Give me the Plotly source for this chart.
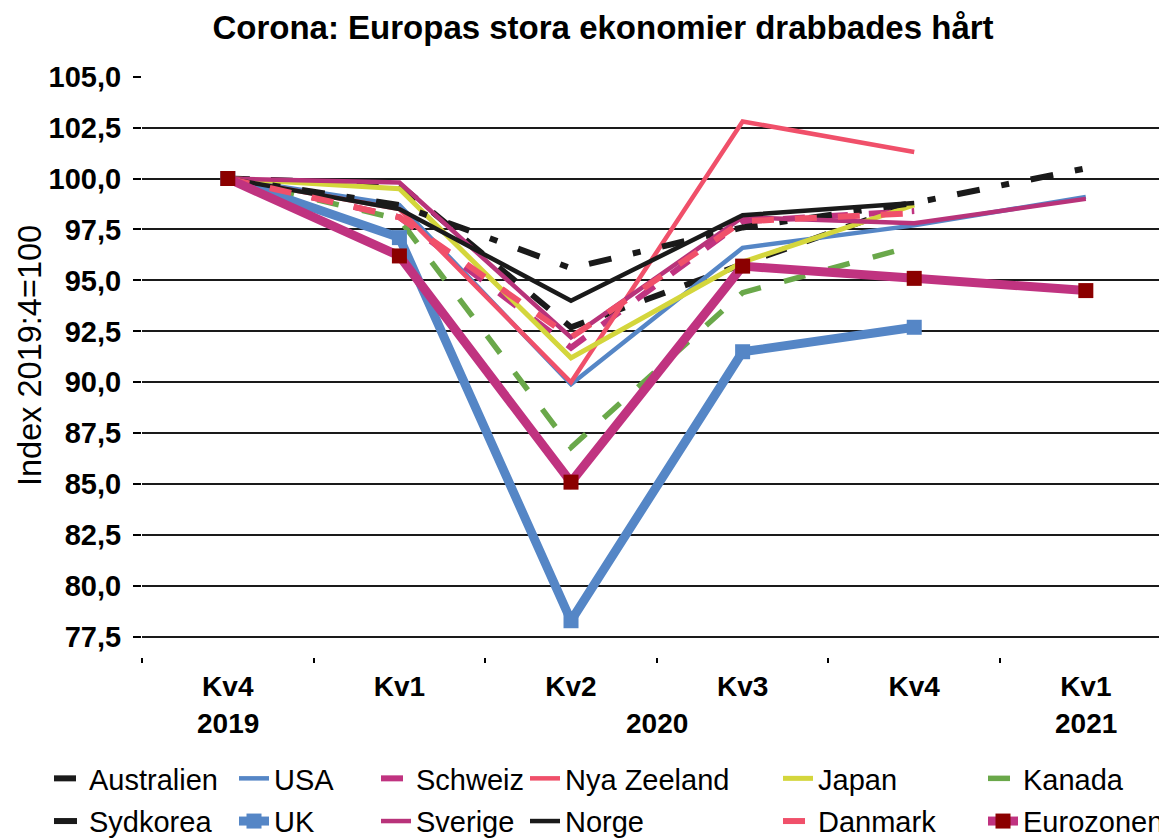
import plotly.graph_objects as go

categories = ["Kv4 2019", "Kv1 2020", "Kv2 2020", "Kv3 2020", "Kv4 2020", "Kv1 2021"]
quarter_labels = ["Kv4", "Kv1", "Kv2", "Kv3", "Kv4", "Kv1"]
year_labels = ["2019", "2020", "2021"]
year_positions = [0, 2.5, 5]

australien = [100.0, 99.7, 92.7, 95.8, 98.8, None]
usa = [100.0, 98.7, 89.9, 96.6, 97.7, 99.1]
schweiz = [100.0, 98.1, 91.7, 97.9, 98.4, None]
nya_zeeland = [100.0, 98.5, 90.0, 102.8, 101.3, None]
japan = [100.0, 99.5, 91.2, 95.9, 98.7, None]
kanada = [100.0, 98.0, 86.8, 94.4, 96.7, None]
sydkorea = [100.0, 98.7, 95.6, 97.6, 98.8, 100.5]
uk = [100.0, 97.1, 78.3, 91.5, 92.7, None]
sverige = [100.0, 99.8, 92.2, 98.1, 97.8, 99.0]
norge = [100.0, 98.5, 94.0, 98.2, 98.8, None]
danmark = [100.0, 98.1, 92.2, 97.9, 98.3, None]
eurozonen = [100.0, 96.2, 85.1, 95.7, 95.1, 94.5]

x = list(range(len(categories)))

BLACK = "#1a1a1a"
BLUE = "#5586C6"
MAGENTA = "#C03380"
MAGENTA2 = "#B8337A"
RED = "#F0506A"
YELLOW = "#D4D63C"
GREEN = "#6AA84A"
DARKRED = "#8B0000"

FONT = "Liberation Sans, Arial, sans-serif"

# (name, data, color, width, dash, marker, legend)
series = [
    ("Australien", australien, BLACK, 6, "22px,21px", None, "legend"),
    ("USA", usa, BLUE, 4.5, "solid", None, "legend2"),
    ("Schweiz", schweiz, MAGENTA, 6, "22px,21px", None, "legend3"),
    ("Nya Zeeland", nya_zeeland, RED, 4.5, "solid", None, "legend4"),
    ("Japan", japan, YELLOW, 5, "solid", None, "legend5"),
    ("Kanada", kanada, GREEN, 5.5, "22px,24px", None, "legend6"),
    ("Sydkorea", sydkorea, BLACK, 6, "23px,22px,8px,22px", None, "legend"),
    ("UK", uk, BLUE, 9, "solid", BLUE, "legend2"),
    ("Sverige", sverige, MAGENTA2, 4.5, "solid", None, "legend3"),
    ("Norge", norge, BLACK, 4.5, "solid", None, "legend4"),
    ("Danmark", danmark, RED, 6, "22px,21px", None, "legend5"),
    ("Eurozonen", eurozonen, MAGENTA, 9, "solid", DARKRED, "legend6"),
]

fig = go.Figure()
for name, data, color, width, dash, mcol, leg in series:
    kw = {}
    if mcol:
        kw["mode"] = "lines+markers"
        kw["marker"] = dict(symbol="square", size=15, color=mcol)
    else:
        kw["mode"] = "lines"
    fig.add_trace(go.Scatter(
        x=x, y=data, name=name, legend=leg, legendgroup=name,
        line=dict(color=color, width=width, dash=dash),
        connectgaps=False, **kw))

# page offset of the figure inside the html body
OFF = 8
W, H = 1167 - OFF, 839 - OFF
L, T = 142 - OFF, 76 - OFF
BOT = 657 - OFF
R = 0
B = H - BOT
pw = W - L - R
ph = H - T - B


def px_x(p):
    return (p - OFF - L) / pw


def px_y(p):
    return (BOT - (p - OFF)) / ph


def cx(p):
    return (p - OFF) / W


def cy(p):
    return 1 - (p - OFF) / H


text_starts = [90, 275, 417, 566, 819, 1024]
legend_names = ["legend", "legend2", "legend3", "legend4", "legend5", "legend6"]
legend_cfg = {}
for ln, ts in zip(legend_names, text_starts):
    legend_cfg[ln] = dict(
        x=cx(ts - 41), xref="container", xanchor="left",
        y=cy(753), yref="container", yanchor="top",
        orientation="v", bgcolor="rgba(0,0,0,0)", borderwidth=0,
        font=dict(family=FONT, size=29, color="black"),
        tracegroupgap=2, itemwidth=30,
    )

annotations = []
for lab, pos in zip(year_labels, year_positions):
    annotations.append(dict(
        x=pos, xref="x", y=px_y(723), yref="paper", text=lab, showarrow=False,
        xanchor="center", yanchor="middle",
        font=dict(family=FONT, size=28, color="black", weight="bold")))
annotations.append(dict(
    x=px_x(30), xref="paper", y=px_y(356), yref="paper", text="Index 2019:4=100",
    showarrow=False, textangle=-90, xanchor="center", yanchor="middle",
    font=dict(family=FONT, size=32.5, color="black")))

fig.update_layout(
    width=W, height=H,
    margin=dict(l=L, r=R, t=T, b=B, autoexpand=False),
    paper_bgcolor="white", plot_bgcolor="white",
    separators=",.",
    title=dict(text="<b>Corona: Europas stora ekonomier drabbades hårt</b>",
               x=cx(603), xref="container", xanchor="center",
               y=cy(27), yref="container", yanchor="middle",
               font=dict(family=FONT, size=33, color="black")),
    showlegend=True,
    annotations=annotations,
    **legend_cfg,
)

fig.update_xaxes(
    range=[-0.5, 5.473], tickmode="array", tickvals=x, ticktext=quarter_labels,
    ticks="", showgrid=False, zeroline=False, showline=False, automargin=False,
    tickfont=dict(family=FONT, size=28, color="black", weight="bold"),
    ticklabelstandoff=10,
    minor=dict(tickmode="array", tickvals=[-0.5, 0.5, 1.5, 2.5, 3.5, 4.5],
               ticks="outside", ticklen=5, tickwidth=1.5, tickcolor="black",
               showgrid=False),
)
fig.update_yaxes(
    range=[76.52, 105.03], tickmode="linear", tick0=77.5, dtick=2.5,
    tickformat=".1f", showgrid=True, gridcolor=BLACK, gridwidth=2,
    zeroline=False, showline=False, ticks="outside", ticklen=8, automargin=False,
    tickcolor="black", tickwidth=1.5, ticklabelstandoff=6,
    tickfont=dict(family=FONT, size=29, color="black", weight="bold"),
)

fig.write_html("out.html")
